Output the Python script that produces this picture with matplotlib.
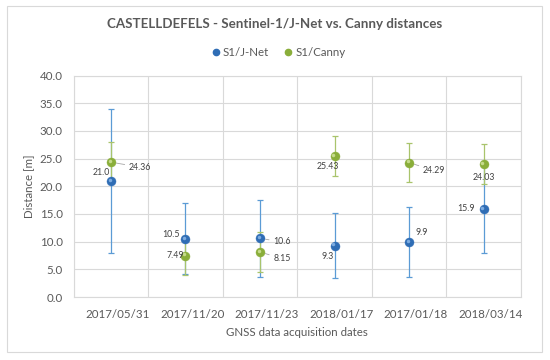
import matplotlib
matplotlib.use("Agg")
import matplotlib.pyplot as plt
import matplotlib.transforms as mtrans
from matplotlib.patches import Rectangle
from matplotlib.lines import Line2D
import numpy as np

# ── data ──────────────────────────────────────────────────────────
dates = ["2017/05/31", "2017/11/20", "2017/11/23",
         "2018/01/17", "2017/01/18", "2018/03/14"]
jnet_mean = [21.0, 10.5, 10.6, 9.3, 9.9, 15.9]
jnet_err = [13.0, 6.4, 7.0, 5.8, 6.3, 7.9]
canny_mean = [24.36, 7.49, 8.15, 25.43, 24.29, 24.03]
canny_err = [3.6, 3.5, 3.55, 3.57, 3.56, 3.57]

# label offsets (points) and whether a leader line is drawn
jnet_lbl = [(-7.2, 6.1, False), (-10.4, 2.9, False), (15.8, -2.6, True),
            (-4.8, -7.9, False), (9.4, 6.9, False), (-13.0, 0.0, False)]
canny_lbl = [(20.9, -3.6, True), (-7.2, 0.0, False), (15.8, -5.0, True),
             (-5.0, -7.2, False), (18.0, -5.8, True), (0.0, -10.0, False)]

BLUE = "#2f6db5"
BLUE_HI = "#8ab8ea"
BLUE_BAR = "#5b9bd5"
GREEN = "#8aae3a"
GREEN_HI = "#d0e49a"
GREEN_BAR = "#a9c46c"
TEXT = "#595959"
LBL = "#404040"
GRID = "#d9d9d9"

plt.rcParams["font.family"] = ["Lato", "DejaVu Sans"]

fig = plt.figure(figsize=(5.5, 3.6), dpi=100, facecolor="white")
fig.patches.append(Rectangle((0.0133, 0.0214), 0.9716, 0.962,
                             transform=fig.transFigure, fill=False,
                             edgecolor=GRID, lw=0.8))
ax = fig.add_axes([0.134, 0.175, 0.813, 0.615])

x = np.arange(len(dates))
ax.set_xlim(-0.5, len(dates) - 0.5)
ax.set_ylim(0, 40)
ax.set_yticks(np.arange(0, 40.1, 5))
ax.set_yticklabels([f"{v:.1f}" for v in np.arange(0, 40.1, 5)])
ax.set_xticks(x)
ax.set_xticklabels(dates)
ax.set_xticks(np.arange(-0.5, len(dates)), minor=True)

ax.grid(True, axis="y", color=GRID, lw=0.8)
ax.grid(True, axis="x", which="minor", color=GRID, lw=0.8)
ax.set_axisbelow(True)
for sp in ax.spines.values():
    sp.set_edgecolor(GRID)
    sp.set_linewidth(0.8)

ax.tick_params(axis="both", which="both", length=0, colors=TEXT, labelsize=8.3)
ax.tick_params(axis="y", pad=8)
ax.tick_params(axis="x", pad=9)
shift = mtrans.ScaledTranslation(5 / 72, 0, fig.dpi_scale_trans)
for lab in ax.get_xticklabels():
    lab.set_transform(lab.get_transform() + shift)

ax.errorbar(x, jnet_mean, yerr=jnet_err, fmt="none", ecolor=BLUE_BAR,
            elinewidth=0.9, capsize=2.2, capthick=0.9, zorder=3)
ax.errorbar(x, canny_mean, yerr=canny_err, fmt="none", ecolor=GREEN_BAR,
            elinewidth=0.9, capsize=2.2, capthick=0.9, zorder=3)

hi = mtrans.offset_copy(ax.transData, fig=fig, x=-0.8, y=0.9, units="points")
for ys, c, chi in [(jnet_mean, BLUE, BLUE_HI), (canny_mean, GREEN, GREEN_HI)]:
    ax.plot(x, ys, "o", ms=6.5, color=c, mec=c, mew=0.3, ls="none", zorder=5)
    ax.plot(x, ys, "o", ms=2.5, color=chi, mec="none", alpha=0.85,
            transform=hi, ls="none", zorder=6)

for xi, yi, (dx, dy, lead) in zip(x, jnet_mean, jnet_lbl):
    ax.annotate(f"{yi:.1f}", (xi, yi), xytext=(dx, dy), textcoords="offset points",
                ha="center", va="center", fontsize=6.3, color=LBL, zorder=7,
                arrowprops=dict(arrowstyle="-", color="#a6a6a6", lw=0.6,
                                shrinkA=1, shrinkB=4) if lead else None)
for xi, yi, (dx, dy, lead) in zip(x, canny_mean, canny_lbl):
    ax.annotate(f"{yi:.2f}", (xi, yi), xytext=(dx, dy), textcoords="offset points",
                ha="center", va="center", fontsize=6.3, color=LBL, zorder=7,
                arrowprops=dict(arrowstyle="-", color="#a6a6a6", lw=0.6,
                                shrinkA=1, shrinkB=4) if lead else None)

ax.set_ylabel("Distance [m]", fontsize=8.3, color=TEXT, labelpad=4)
ax.set_xlabel("GNSS data acquisition dates", fontsize=8.3, color=TEXT, labelpad=5)

fig.text(0.5, 0.933, "CASTELLDEFELS - Sentinel-1/J-Net vs. Canny distances",
         ha="center", va="center", fontsize=9.6, fontweight="bold", color=TEXT)

handles = [Line2D([0], [0], marker="o", ls="none", ms=4.5, color=BLUE, label="S1/J-Net"),
           Line2D([0], [0], marker="o", ls="none", ms=4.5, color=GREEN, label="S1/Canny")]
fig.legend(handles=handles, loc="center", bbox_to_anchor=(0.505, 0.855), ncol=2,
           frameon=False, fontsize=8.3, labelcolor=TEXT, handletextpad=0.1,
           columnspacing=1.2, handlelength=1.0)

fig.savefig("out.png", dpi=100, facecolor="white")
